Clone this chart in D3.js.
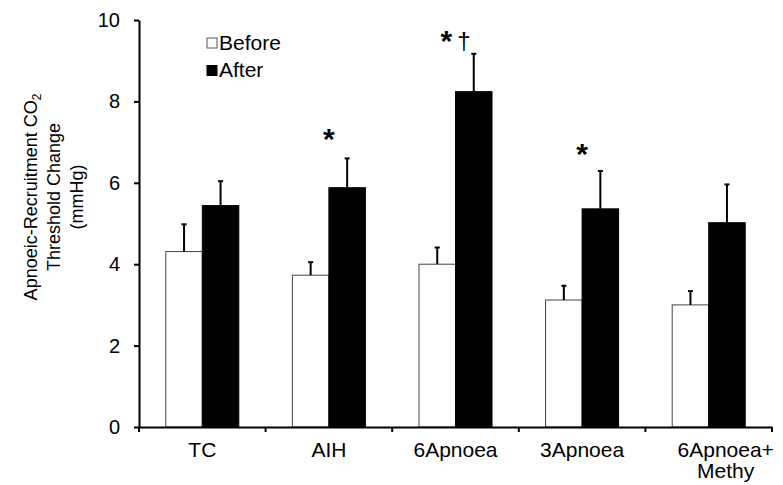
<!DOCTYPE html>
<html>
<head>
<meta charset="utf-8">
<script src="https://cdn.jsdelivr.net/npm/d3@7"></script>
<style>
  body { margin: 0; background: #fff; }
  svg { display: block; font-family: "Liberation Sans", Arial, sans-serif; }
</style>
</head>
<body>
<div id="chart"></div>
<script>
// data
const categories = ["TC", "AIH", "6Apnoea", "3Apnoea", "6Apnoea+|Methy"];
const series = ["Before", "After"];
const beforeMean = [4.31, 3.73, 4.0, 3.12, 3.0];
const beforeSem = [0.67, 0.32, 0.41, 0.35, 0.34];
const afterMean = [5.44, 5.88, 8.24, 5.36, 5.02];
const afterSem = [0.6, 0.72, 0.93, 0.93, 0.94];
const sigMarks = ["", "*", "*†", "*", ""];
const sigLevel = [null, 6.84, 9.23, 6.45, null];
const yTicks = [0, 2, 4, 6, 8, 10];
const yLabel = ["Apnoeic-Recruitment CO|2", "Threshold Change", "(mmHg)"];

(function () {
  const W = 783, H = 485;
  const plot = { left: 139, right: 772, top: 20, bottom: 427 };

  const svg = d3.select("#chart").append("svg")
    .attr("width", W).attr("height", H);

  const x = d3.scaleBand()
    .domain(categories)
    .range([plot.left, plot.right])
    .padding(0);

  const xs = d3.scaleBand()
    .domain(series)
    .range([0, x.bandwidth()])
    .paddingInner(0)
    .paddingOuter(0.734);

  const y = d3.scaleLinear().domain([0, 10]).range([plot.bottom, plot.top]);

  const rows = categories.map((c, i) => ({
    cat: c,
    vals: [
      { s: "Before", v: beforeMean[i], e: beforeSem[i] },
      { s: "After", v: afterMean[i], e: afterSem[i] },
    ],
  }));

  // bars
  const groups = svg.selectAll(".grp").data(rows).enter().append("g")
    .attr("class", "grp")
    .attr("transform", (d) => `translate(${x(d.cat)},0)`);

  groups.selectAll("rect").data((d) => d.vals).enter().append("rect")
    .attr("x", (d) => xs(d.s))
    .attr("y", (d) => y(d.v))
    .attr("width", xs.bandwidth())
    .attr("height", (d) => y(0) - y(d.v))
    .attr("fill", (d) => (d.s === "Before" ? "#fff" : "#000"))
    .attr("stroke", (d) => (d.s === "Before" ? "#444" : "#000"))
    .attr("stroke-width", 1);

  // error bars (upper only)
  const err = groups.selectAll(".err").data((d) => d.vals).enter().append("g")
    .attr("class", "err");
  err.append("line")
    .attr("x1", (d) => xs(d.s) + xs.bandwidth() / 2)
    .attr("x2", (d) => xs(d.s) + xs.bandwidth() / 2)
    .attr("y1", (d) => y(d.v))
    .attr("y2", (d) => y(d.v + d.e))
    .attr("stroke", "#000").attr("stroke-width", 2);
  err.append("line")
    .attr("x1", (d) => xs(d.s) + xs.bandwidth() / 2 - 2.5)
    .attr("x2", (d) => xs(d.s) + xs.bandwidth() / 2 + 2.5)
    .attr("y1", (d) => y(d.v + d.e))
    .attr("y2", (d) => y(d.v + d.e))
    .attr("stroke", "#000").attr("stroke-width", 2);

  // y axis
  const yAxis = svg.append("g")
    .attr("transform", `translate(${plot.left},0)`)
    .call(d3.axisLeft(y).tickValues(yTicks).tickSize(5).tickSizeOuter(0).tickPadding(14));
  yAxis.select(".domain").attr("stroke-width", 2);
  yAxis.selectAll(".tick line").attr("stroke-width", 2);
  yAxis.selectAll("text").attr("font-size", 20).attr("font-family", null).attr("fill", "#000");

  // x axis: labels at band centres, ticks at band edges
  const xAxis = svg.append("g")
    .attr("transform", `translate(0,${plot.bottom})`)
    .call(d3.axisBottom(x).tickSize(0).tickSizeOuter(0).tickPadding(15).tickFormat(""));
  xAxis.select(".domain").attr("stroke-width", 2);
  xAxis.selectAll(".tick text").each(function (d) {
    const t = d3.select(this)
      .attr("font-size", 21).attr("font-family", null).attr("fill", "#000");
    const parts = d.split("|");
    const shift = parts.length > 1 ? 17 : 0;
    parts.forEach((p, k) => {
      const ts = t.append("tspan").attr("x", shift).text(p);
      if (k > 0) ts.attr("dy", "1.0em");
    });
  });
  const edges = categories.map((c) => x(c)).concat([plot.right]);
  xAxis.selectAll(".edge").data(edges).enter().append("line")
    .attr("class", "edge")
    .attr("x1", (d) => d).attr("x2", (d) => d)
    .attr("y1", 0).attr("y2", 5)
    .attr("stroke", "#000").attr("stroke-width", 2);

  // significance marks
  categories.forEach((c, i) => {
    if (!sigMarks[i]) return;
    const t = svg.append("text")
      .attr("x", x(c) + x.bandwidth() / 2)
      .attr("y", y(sigLevel[i]))
      .attr("text-anchor", "middle");
    sigMarks[i].split("").forEach((ch, k) => {
      t.append("tspan")
        .attr("dx", k === 0 ? 0 : 5)
        .attr("font-size", ch === "*" ? 30 : 24)
        .attr("font-weight", ch === "*" ? "bold" : "normal")
        .attr("dy", ch === "*" ? 0 : -2)
        .text(ch);
    });
  });

  // y label, three lines
  const yl = svg.append("g").attr("transform", "translate(0,197) rotate(-90)");
  yLabel.forEach((line, k) => {
    const t = yl.append("text")
      .attr("x", 0).attr("y", 37 + k * 23)
      .attr("text-anchor", "middle").attr("font-size", 18);
    const parts = line.split("|");
    t.append("tspan").text(parts[0]);
    if (parts[1]) {
      t.append("tspan").attr("font-size", 12).attr("dy", 4).text(parts[1]);
    }
  });

  // legend
  const legend = svg.append("g").attr("transform", "translate(207,38)");
  series.forEach((s, i) => {
    const row = legend.append("g").attr("transform", `translate(0,${i * 27.5})`);
    row.append("rect")
      .attr("width", 10).attr("height", 10)
      .attr("fill", s === "Before" ? "#fff" : "#000")
      .attr("stroke", s === "Before" ? "#555" : "#000");
    row.append("text")
      .attr("x", 12).attr("y", 11.5)
      .attr("font-size", 21).text(s);
  });
})();
</script>
</body>
</html>
